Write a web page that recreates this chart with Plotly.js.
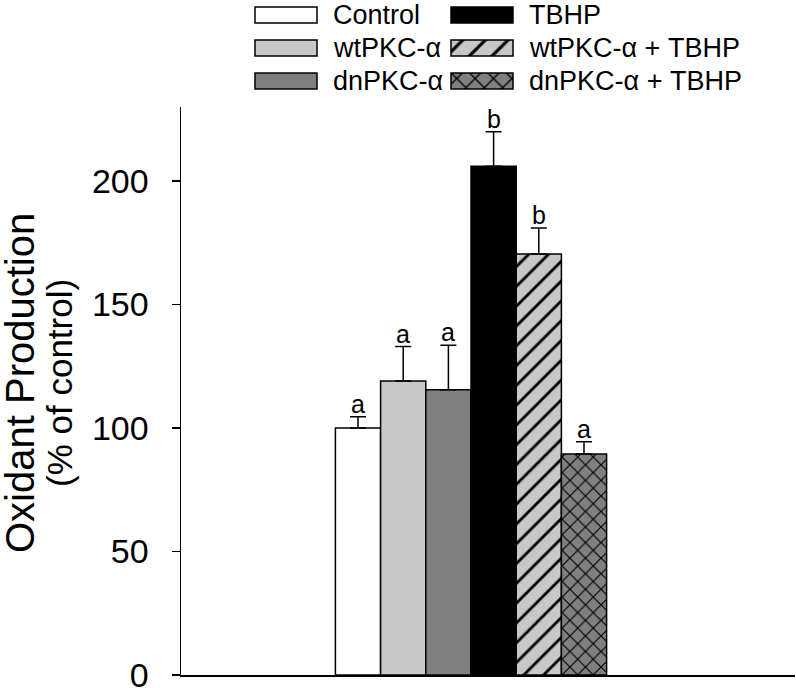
<!DOCTYPE html>
<html>
<head>
<meta charset="utf-8">
<script src="https://cdn.plot.ly/plotly-3.0.1.min.js"></script>
<style>html,body{margin:0;padding:0;background:#fff;}</style>
</head>
<body>
<div id="chart" style="width:796px;height:688px;"></div>
<script>
// ---- data ----
const categories = ['Control', 'wtPKC-α', 'dnPKC-α', 'TBHP', 'wtPKC-α + TBHP', 'dnPKC-α + TBHP'];
const values = [100, 119, 115.5, 206, 170.5, 89.5];
const errors = [4.6, 14, 18, 14, 10.5, 5];
const sigLetters = ['a', 'a', 'a', 'b', 'b', 'a'];
const yTickVals = [0, 50, 100, 150, 200];
const yTitleLines = ['Oxidant Production', '(% of control)'];

// ---- styling ----
const fillColors = ['#ffffff', '#c8c8c8', '#808080', '#000000', '#c8c8c8', '#808080'];
const patternShapes = ['', '', '', '', '/', 'x'];
const patternSizes = [8, 8, 8, 8, 14, 11];

const FONT = 'Liberation Sans, Arial, Helvetica, sans-serif';
const W = 796, H = 688;
const M = {l: 181, r: 1, t: 5, b: 13};
const plotW = W - M.l - M.r, plotH = H - M.t - M.b;
const mainTopPx = 107;
const mainDomainTop = (H - M.b - mainTopPx) / plotH;

const xIdx = categories.map((c, i) => i);
const barPx = 45.2;
const firstCenterPx = 358;
const xr0 = -(firstCenterPx - M.l) / barPx;
const xr1 = xr0 + plotW / barPx;

function markerFor(i, sizeAdd) {
  const m = {color: fillColors[i], line: {color: '#000', width: 1.5}};
  if (patternShapes[i]) {
    m.pattern = {shape: patternShapes[i], fgcolor: '#000', fgopacity: 1, bgcolor: fillColors[i],
                 size: patternSizes[i] + (sizeAdd || 0), solidity: 0.2, fillmode: 'replace'};
  }
  return m;
}

const traces = [];
categories.forEach((c, i) => {
  traces.push({
    type: 'bar', name: c,
    x: [xIdx[i]], y: [values[i]], width: 1,
    marker: markerFor(i, 0),
    error_y: {type: 'data', array: [errors[i]], arrayminus: [0], symmetric: false, color: '#000', thickness: 1.5, width: 8},
    hoverinfo: 'skip', xaxis: 'x', yaxis: 'y'
  });
});

// ---- custom legend (second subplot in the top band) ----
const legTopPx = 5, legBotPx = 98;
const rowPx = 33, row0Px = 15;
const legDomain = [(H - M.b - legBotPx) / plotH, (H - M.b - legTopPx) / plotH];
const ly0 = (legBotPx - row0Px) / rowPx;
const ly1 = (legTopPx - row0Px) / rowPx;
const swW = 62, swH = 16;
const colX = [255, 451];
const legRows = categories.map((c, i) => i % 3);
const legCols = categories.map((c, i) => Math.floor(i / 3));

categories.forEach((c, i) => {
  traces.push({
    type: 'bar', orientation: 'h', name: c,
    y: [legRows[i]], x: [swW], base: [colX[legCols[i]]], width: swH / rowPx,
    marker: markerFor(i, 2),
    hoverinfo: 'skip', xaxis: 'x2', yaxis: 'y2'
  });
});

const annotations = [];
xIdx.forEach((x, i) => {
  annotations.push({
    x: x, y: values[i] + errors[i], xref: 'x', yref: 'y',
    text: sigLetters[i], showarrow: false, yanchor: 'bottom', yshift: -3,
    font: {family: FONT, size: 25, color: '#000'}
  });
});
categories.forEach((c, i) => {
  annotations.push({
    x: colX[legCols[i]] + swW + 14, y: legRows[i], xref: 'x2', yref: 'y2',
    text: c, showarrow: false, xanchor: 'left', yanchor: 'middle',
    font: {family: FONT, size: 27, color: '#000'}
  });
});
// y-axis title (two lines, different sizes)
const titleCentersPx = [20, 60];
const titleSizes = [40, 35];
yTitleLines.forEach((t, k) => {
  annotations.push({
    x: (titleCentersPx[k] - M.l) / plotW, y: (H - M.b - 383) / plotH, xref: 'paper', yref: 'paper',
    text: t, textangle: -90, showarrow: false, xanchor: 'center', yanchor: 'middle',
    font: {family: FONT, size: titleSizes[k], color: '#000'}
  });
});

const layout = {
  width: W, height: H,
  margin: M,
  paper_bgcolor: '#fff', plot_bgcolor: 'rgba(0,0,0,0)',
  showlegend: false, barmode: 'overlay',
  font: {family: FONT, color: '#000'},
  xaxis: {
    domain: [0, 1], anchor: 'y', range: [xr0, xr1],
    showline: true, linecolor: '#000', linewidth: 2,
    showticklabels: false, ticks: '', showgrid: false, zeroline: false, fixedrange: true
  },
  yaxis: {
    domain: [0, mainDomainTop], anchor: 'x', range: [0, 230],
    showline: true, linecolor: '#000', linewidth: 1.5,
    ticks: 'outside', ticklen: 8, tickwidth: 1.5, tickcolor: '#000',
    tickvals: yTickVals, ticktext: yTickVals.map(String),
    tickfont: {family: FONT, size: 34, color: '#000'}, ticklabelstandoff: 16,
    ticklabeloverflow: 'allow',
    showgrid: false, zeroline: false, fixedrange: true
  },
  xaxis2: {domain: [0, 1], anchor: 'y2', range: [M.l, W - M.r], visible: false, fixedrange: true},
  yaxis2: {domain: legDomain, anchor: 'x2', range: [ly0, ly1], visible: false, fixedrange: true},
  annotations: annotations
};

Plotly.newPlot('chart', traces, layout, {displayModeBar: false, staticPlot: true});
</script>
</body>
</html>
